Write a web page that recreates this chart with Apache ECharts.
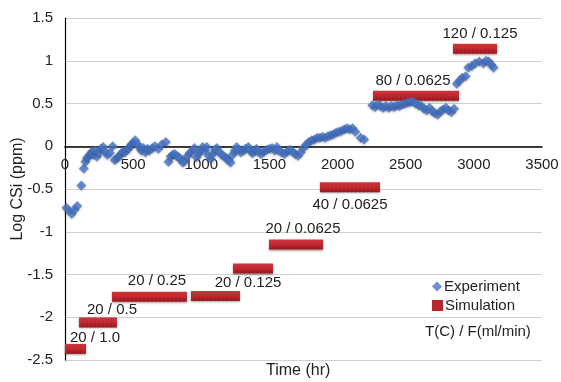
<!DOCTYPE html>
<html>
<head>
<meta charset="utf-8">
<script src="https://cdn.jsdelivr.net/npm/echarts@6/dist/echarts.min.js"></script>
<style>html,body{margin:0;padding:0;background:#fff}#c{width:561px;height:382px}</style>
</head>
<body>
<div id="c"></div>
<script>
// Experiment: [time (hr), log CSi (ppm)]
const experiment = [
[10,-0.72],[30,-0.75],[50,-0.79],[70,-0.74],[90,-0.70],
[120,-0.46],[138,-0.26],[150,-0.18],[160,-0.14],[172,-0.12],[185,-0.09],[198,-0.06],[210,-0.10],[222,-0.05],[235,-0.12],
[250,-0.07],[265,-0.03],[280,-0.01],[295,-0.06],[310,-0.10],[330,-0.08],[350,0.00],[365,-0.16],[380,-0.14],[395,-0.12],
[410,-0.09],[425,-0.06],[440,-0.07],[455,-0.04],[470,-0.02],[485,0.02],[500,0.04],[515,0.07],[530,0.03],[545,-0.01],
[560,-0.05],[575,-0.02],[590,-0.07],[605,-0.03],[620,-0.05],[640,-0.02],[660,0.00],[685,-0.03],[710,0.02],[740,0.05],
[760,-0.18],[775,-0.12],[790,-0.10],[805,-0.09],[820,-0.11],[835,-0.13],[850,-0.15],[865,-0.19],[880,-0.17],[900,-0.11],
[915,-0.08],[935,-0.05],[950,-0.02],[965,-0.13],[980,-0.09],[995,-0.05],[1010,-0.01],[1025,-0.05],[1040,-0.01],[1055,-0.11],
[1070,-0.15],[1085,-0.09],[1100,-0.04],[1115,-0.02],[1130,-0.06],[1150,-0.10],[1170,-0.12],[1185,-0.14],[1200,-0.16],[1215,-0.19],
[1230,-0.10],[1245,-0.05],[1260,-0.01],[1275,-0.04],[1290,-0.07],[1310,-0.05],[1325,-0.03],[1345,-0.01],[1360,-0.05],[1375,-0.08],
[1390,-0.06],[1405,-0.03],[1420,-0.06],[1440,-0.09],[1460,-0.06],[1480,-0.04],[1500,-0.03],[1520,-0.02],[1540,-0.05],[1555,-0.01],
[1570,-0.05],[1590,-0.07],[1610,-0.09],[1630,-0.06],[1650,-0.04],[1670,-0.06],[1690,-0.09],[1710,-0.11],[1730,-0.07],[1750,-0.02],
[1770,0.02],[1790,0.05],[1810,0.07],[1830,0.08],[1850,0.10],[1870,0.10],[1890,0.11],[1910,0.10],[1930,0.12],[1950,0.13],
[1970,0.14],[1990,0.16],[2010,0.17],[2030,0.18],[2050,0.20],[2070,0.21],[2090,0.20],[2110,0.21],[2130,0.17],[2170,0.10],[2195,0.08],
[2255,0.48],[2275,0.46],[2295,0.49],[2315,0.47],[2335,0.45],[2355,0.47],[2375,0.45],[2395,0.47],[2415,0.46],[2435,0.48],
[2455,0.47],[2475,0.49],[2495,0.50],[2515,0.51],[2535,0.52],[2555,0.52],[2575,0.50],[2595,0.48],[2615,0.47],[2635,0.44],
[2655,0.42],[2675,0.45],[2695,0.41],[2715,0.39],[2735,0.37],[2755,0.41],[2775,0.43],[2795,0.45],[2815,0.42],[2835,0.40],[2855,0.44],
[2875,0.73],[2895,0.77],[2915,0.80],[2940,0.82],[2960,0.92],[2985,0.94],[3010,0.97],[3040,0.99],[3070,0.97],[3090,1.00],
[3110,0.99],[3130,0.95],[3145,0.92]
];
// Simulation stages: start (hr), end (hr), log CSi
const simStart = [0, 103, 345, 924, 1233, 1497, 1871, 2260, 2847];
const simEnd   = [154, 381, 895, 1284, 1526, 1893, 2311, 2891, 3170];
const simValue = [-2.37, -2.06, -1.76, -1.75, -1.43, -1.15, -0.48, 0.59, 1.14];
// Stage annotations: T(C) / F(ml/min)
const labelText = ['20 / 1.0','20 / 0.5','20 / 0.25','20 / 0.125','20 / 0.0625','40 / 0.0625','80 / 0.0625','120 / 0.125'];
const labelX = [220, 345, 675, 1343, 1746, 2091, 2553, 3045];
const labelY = [-2.24, -1.91, -1.58, -1.60, -0.97, -0.68, 0.77, 1.32];
// Axes
const xTicks = {min: 0, max: 3500, interval: 500};
const yTicks = {min: -2.5, max: 1.5, interval: 0.5};

const FONT = "'Liberation Sans', Arial, sans-serif";
const chart = echarts.init(document.getElementById('c'), null, {renderer: 'canvas'});
const simData = simStart.map((s, i) => [s, simEnd[i], simValue[i]]);
const lblData = labelX.map((x, i) => [x, labelY[i]]);

const GRID = {left: 65, right: 19, top: 18, bottom: 22};
const plotH = 382 - GRID.top - GRID.bottom;
// distance from bottom of plot to the zero line (layout, derived from the y scale)
const zeroOffset = -plotH * (0 - yTicks.min) / (yTicks.max - yTicks.min);

chart.setOption({
  animation: false,
  backgroundColor: '#fff',
  grid: Object.assign({outerBoundsMode: 'none', containLabel: false}, GRID),
  xAxis: {
    type: 'value', min: xTicks.min, max: xTicks.max, interval: xTicks.interval,
    offset: zeroOffset,
    axisLine: {onZero: false, lineStyle: {color: '#000', width: 1.5}},
    axisTick: {show: false},
    axisLabel: {fontFamily: FONT, fontSize: 15, color: '#222', margin: 11, formatter: v => String(v)},
    splitLine: {show: false}
  },
  yAxis: {
    type: 'value', min: yTicks.min, max: yTicks.max, interval: yTicks.interval,
    name: 'Log CSi (ppm)', nameLocation: 'middle', nameGap: 39, nameRotate: 90,
    nameMoveOverlap: false,
    nameTextStyle: {fontFamily: FONT, fontSize: 16, color: '#222'},
    axisLine: {show: true, lineStyle: {color: '#000', width: 1.2}},
    axisTick: {show: false},
    axisLabel: {fontFamily: FONT, fontSize: 15, color: '#222', margin: 12},
    splitLine: {show: true, lineStyle: {color: '#d0d0d0', width: 1}}
  },
  legend: [
    {data: [{name: 'Experiment', icon: 'diamond'}], orient: 'vertical', left: 427, top: 274,
     itemWidth: 10, itemHeight: 10, itemGap: 4,
     textStyle: {fontFamily: FONT, fontSize: 15, color: '#222', padding: [0,0,0,-3]}},
    {data: [{name: 'Simulation', icon: 'rect'}], orient: 'vertical', left: 427, top: 293,
     itemWidth: 11, itemHeight: 11, itemGap: 4,
     textStyle: {fontFamily: FONT, fontSize: 15, color: '#222', padding: [0,0,0,-3]}}
  ],
  graphic: [
    {type: 'text', left: 425, top: 324,
     style: {text: 'T(C) / F(ml/min)', font: '15px ' + FONT, fill: '#222'}},
    {type: 'text', left: 266, top: 363,
     style: {text: 'Time (hr)', font: '16px ' + FONT, fill: '#222'}}
  ],
  series: [
    {
      name: 'Simulation', type: 'custom', z: 2,
      itemStyle: {color: '#b8262c'},
      encode: {x: [0, 1], y: 2},
      data: simData,
      renderItem: function (params, api) {
        const a = api.coord([api.value(0), api.value(2)]);
        const b = api.coord([api.value(1), api.value(2)]);
        const h = 10;
        const children = [{
          type: 'rect',
          shape: {x: a[0], y: a[1] - h / 2, width: b[0] - a[0], height: h},
          style: {
            fill: new echarts.graphic.LinearGradient(0, 0, 0, 1, [
              {offset: 0, color: '#d0353a'}, {offset: 0.6, color: '#bb262c'}, {offset: 1, color: '#9a1b20'}
            ]),
            shadowBlur: 2, shadowColor: 'rgba(0,0,0,0.35)', shadowOffsetY: 1
          }
        }];
        for (let x = a[0] + 4; x < b[0] - 2; x += 4) {
          children.push({type: 'line', shape: {x1: x, y1: a[1] + 1, x2: x, y2: a[1] + h / 2},
            style: {stroke: 'rgba(110,10,15,0.35)', lineWidth: 1}});
        }
        return {type: 'group', children: children};
      }
    },
    {
      name: 'Experiment', type: 'scatter', z: 3,
      symbol: 'diamond', symbolSize: 10,
      itemStyle: {color: '#4673c4', shadowBlur: 2, shadowColor: 'rgba(0,0,0,0.25)', shadowOffsetY: 1},
      data: experiment
    },
    {
      name: 'labels', type: 'custom', z: 4, silent: true,
      data: lblData,
      renderItem: function (params, api) {
        const p = api.coord([api.value(0), api.value(1)]);
        return {type: 'text', x: p[0], y: p[1],
          style: {text: labelText[params.dataIndex], font: '15px ' + FONT, fill: '#222',
                  textAlign: 'center', textVerticalAlign: 'middle'}};
      }
    }
  ]
});
</script>
</body>
</html>
